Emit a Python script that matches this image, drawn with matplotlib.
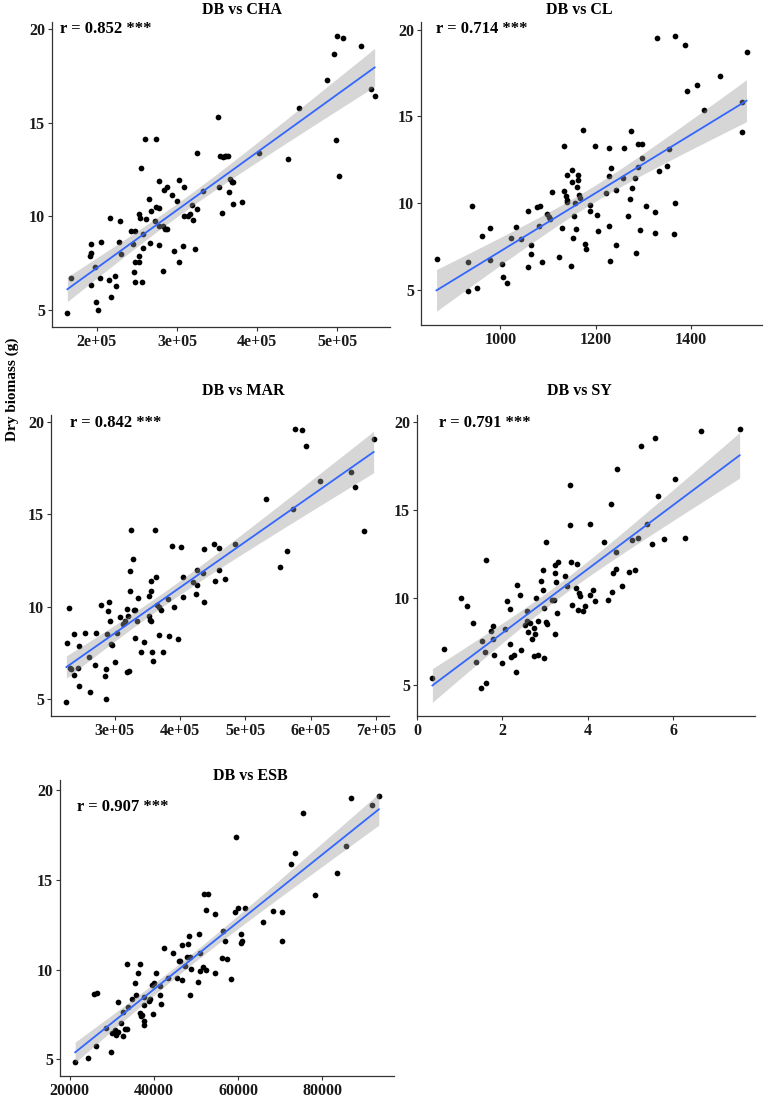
import numpy as np
import matplotlib.pyplot as plt

# data (dry biomass vs each index)
cha_x = [1.63e5, 1.68e5, 1.92e5, 1.91e5, 1.93e5, 1.92e5, 1.98e5, 1.99e5, 2.01e5, 2.04e5, 2.05e5,
         2.15e5, 2.16e5, 2.17e5, 2.23e5, 2.24e5, 2.28e5, 2.29e5, 2.30e5, 2.43e5, 2.45e5, 2.46e5,
         2.47e5, 2.47e5, 2.48e5, 2.52e5, 2.52e5, 2.53e5, 2.54e5, 2.55e5, 2.56e5, 2.57e5, 2.58e5,
         2.60e5, 2.61e5, 2.65e5, 2.66e5, 2.67e5, 2.73e5, 2.74e5, 2.74e5, 2.77e5, 2.77e5, 2.78e5,
         2.78e5, 2.82e5, 2.83e5, 2.84e5, 2.85e5, 2.87e5, 2.88e5, 2.94e5, 2.96e5, 3.00e5, 3.03e5,
         3.03e5, 3.08e5, 3.09e5, 3.09e5, 3.14e5, 3.16e5, 3.19e5, 3.20e5, 3.22e5, 3.25e5, 3.25e5,
         3.32e5, 3.51e5, 3.52e5, 3.54e5, 3.56e5, 3.58e5, 3.60e5, 3.61e5, 3.64e5, 3.65e5, 3.66e5,
         3.69e5, 3.70e5, 3.70e5, 3.81e5, 4.02e5, 4.39e5, 4.53e5, 4.88e5, 4.96e5, 4.99e5, 5.00e5,
         5.03e5, 5.08e5, 5.30e5, 5.43e5, 5.47e5]
cha_y = [4.82, 6.69, 8.5, 7.9, 8.05, 6.3, 7.3, 5.4, 5.0, 6.7, 8.6,
         6.6, 9.9, 5.7, 6.8, 6.25, 8.6, 9.75, 8.0, 9.2, 8.5, 7.0,
         7.55, 6.5, 9.2, 7.55, 10.1, 7.9, 9.9, 12.6, 6.5, 9.05, 8.3,
         14.15, 9.85, 10.9, 8.55, 10.3, 9.75, 10.5, 14.15, 9.5, 8.45, 10.45,
         11.9, 9.5, 7.05, 11.4, 9.3, 9.3, 11.55, 11.15, 8.15, 10.8, 11.95,
         7.55, 8.4, 11.55, 10.0, 10.0, 10.1, 10.6, 9.8, 8.25, 13.4, 10.4,
         11.35, 15.3, 11.55, 13.25, 10.2, 13.15, 13.25, 13.25, 13.2, 11.3, 12.0,
         11.85, 10.65, 11.85, 10.75, 13.4, 13.05, 15.8, 17.3, 18.7, 14.1, 19.65,
         12.15, 19.55, 19.1, 16.8, 16.45]

cl_x = [866, 933, 933, 940, 952, 961, 978, 978, 1003, 1005, 1013, 1023, 1033, 1043, 1059, 1059,
        1065, 1065, 1076, 1081, 1084, 1088, 1099, 1102, 1105, 1109, 1124, 1130, 1134, 1134, 1138,
        1139, 1140, 1141, 1149, 1151, 1151, 1153, 1155, 1156, 1159, 1160, 1163, 1164, 1166, 1167,
        1174, 1177, 1180, 1188, 1189, 1198, 1203, 1205, 1221, 1228, 1229, 1229, 1230, 1233, 1243,
        1243, 1258, 1259, 1269, 1273, 1275, 1276, 1282, 1285, 1289, 1290, 1293, 1297, 1298, 1305,
        1324, 1324, 1330, 1333, 1350, 1354, 1365, 1366, 1366, 1387, 1393, 1412, 1428, 1462, 1507,
        1507, 1517]
cl_y = [6.77, 4.9, 6.6, 9.85, 5.1, 8.1, 8.55, 6.7, 6.5, 5.75, 5.4, 7.95, 8.6, 7.9, 9.55, 6.3,
        7.55, 7.05, 9.75, 8.65, 9.8, 6.6, 9.35, 9.2, 9.1, 10.65, 6.9, 8.55, 13.3, 10.7, 10.4,
        10.05, 10.2, 11.6, 6.35, 11.2, 11.9, 8.0, 9.25, 10.0, 8.5, 10.9, 11.3, 11.6, 10.45, 10.3,
        14.2, 7.65, 7.35, 9.55, 9.9, 13.3, 9.3, 8.4, 10.6, 13.15, 11.55, 8.65, 6.65, 12.0, 10.75,
        7.6, 11.45, 13.15, 9.25, 10.25, 14.15, 10.85, 11.45, 7.1, 12.05, 13.4, 8.45, 12.6, 13.4, 9.85,
        9.5, 8.25, 19.5, 11.85, 12.15, 13.1, 8.2, 10.0, 19.65, 19.1, 16.45, 16.8, 15.35, 17.3, 14.1,
        15.85, 18.7]

mar_x = [2.26e5, 2.27e5, 2.30e5, 2.31e5, 2.33e5, 2.37e5, 2.38e5, 2.44e5, 2.45e5, 2.45e5, 2.54e5,
         2.60e5, 2.62e5, 2.70e5, 2.71e5, 2.79e5, 2.85e5, 2.86e5, 2.87e5, 2.88e5, 2.90e5, 2.91e5,
         2.93e5, 2.94e5, 2.96e5, 3.00e5, 3.04e5, 3.08e5, 3.13e5, 3.15e5, 3.18e5, 3.19e5, 3.21e5,
         3.22e5, 3.23e5, 3.24e5, 3.25e5, 3.28e5, 3.30e5, 3.31e5, 3.31e5, 3.34e5, 3.36e5, 3.40e5,
         3.44e5, 3.52e5, 3.53e5, 3.54e5, 3.55e5, 3.55e5, 3.55e5, 3.57e5, 3.58e5, 3.61e5, 3.63e5,
         3.64e5, 3.68e5, 3.68e5, 3.71e5, 3.74e5, 3.81e5, 3.83e5, 3.88e5, 3.91e5, 3.96e5, 4.02e5,
         4.04e5, 4.04e5, 4.19e5, 4.24e5, 4.26e5, 4.26e5, 4.35e5, 4.37e5, 4.37e5, 4.52e5, 4.53e5,
         4.59e5, 4.60e5, 4.69e5, 4.84e5, 5.31e5, 5.53e5, 5.64e5, 5.72e5, 5.76e5, 5.87e5, 5.92e5,
         6.14e5, 6.62e5, 6.67e5, 6.81e5, 6.96e5]
mar_y = [4.82, 8.04, 9.92, 6.67, 6.6, 6.3, 8.5, 6.7, 7.85, 5.68, 8.6,
         7.3, 5.38, 6.85, 8.6, 10.1, 6.26, 5.02, 6.65, 8.5, 9.76, 10.26,
         9.2, 8.0, 7.9, 7.0, 8.55, 9.44, 9.04, 9.22, 9.87, 6.47, 9.5,
         6.53, 11.93, 10.87, 14.14, 12.6, 9.8, 8.3, 9.8, 9.22, 10.46, 7.55,
         8.1, 9.5, 10.6, 9.3, 10.84, 11.4, 9.25, 7.55, 7.05, 14.14, 11.6,
         10.1, 10.0, 8.45, 9.83, 7.55, 10.43, 8.4, 13.28, 9.98, 8.25, 13.23,
         11.6, 10.52, 11.34, 10.7, 11.98, 11.2, 11.84, 13.14, 10.23, 13.39, 11.38,
         13.2, 11.98, 11.52, 13.39, 15.81, 12.13, 13.03, 15.31, 19.64, 19.55, 18.69,
         16.78, 17.32, 16.48, 14.1, 19.08]

sy_x = [0.36, 0.63, 1.02, 1.17, 1.30, 1.37, 1.50, 1.52, 1.59, 1.61, 1.62, 1.73, 1.77, 1.77, 1.80,
        2.00, 2.05, 2.11, 2.18, 2.18, 2.20, 2.27, 2.31, 2.34, 2.41, 2.44, 2.52, 2.57, 2.58, 2.60,
        2.65, 2.68, 2.73, 2.73, 2.77, 2.79, 2.82, 2.83, 2.90, 2.95, 2.96, 2.97, 2.97, 3.02, 3.02,
        3.04, 3.15, 3.20, 3.23, 3.23, 3.23, 3.25, 3.27, 3.29, 3.47, 3.52, 3.58, 3.58, 3.60, 3.63,
        3.73, 3.75, 3.76, 3.80, 3.82, 3.89, 3.94, 4.04, 4.06, 4.13, 4.17, 4.38, 4.48, 4.54, 4.57,
        4.59, 4.65, 4.66, 4.69, 4.79, 4.95, 5.03, 5.09, 5.16, 5.25, 5.38, 5.49, 5.58, 5.63, 5.77,
        6.03, 6.27, 6.65, 7.55]
sy_y = [5.43, 7.09, 10.0, 9.51, 8.57, 6.34, 4.87, 7.55, 6.92, 12.17, 5.13, 8.09, 8.36, 7.64, 6.72,
        6.28, 8.21, 9.83, 9.36, 7.36, 6.62, 6.72, 5.75, 10.74, 10.15, 7.02, 8.43, 9.26, 8.66, 8.04,
        8.57, 7.62, 8.28, 6.66, 7.92, 10.0, 8.66, 6.74, 10.94, 10.45, 11.58, 9.42, 6.57, 13.17, 8.6,
        8.49, 9.85, 9.85, 7.92, 11.38, 11.85, 10.89, 9.15, 12.0, 11.21, 10.68, 16.43, 14.13, 12.0, 9.57,
        10.57, 11.94, 9.32, 10.26, 10.08, 9.25, 9.55, 14.17, 10.15, 10.45, 9.83, 13.15, 9.89, 15.32, 10.32,
        11.42, 11.62, 12.58, 17.3, 10.66, 11.47, 13.26, 11.57, 13.38, 18.66, 14.17, 13.06, 19.09, 15.81, 13.32,
        16.77, 13.38, 19.51, 19.62]

esb_x = [21344, 24348, 25692, 26403, 26324, 28696, 29723, 30040, 30672, 31067, 31383, 31383,
         32095, 32569, 32727, 33202, 33676, 33676, 33913, 34783, 35573, 35810, 36285, 36680,
         36680, 36917, 37233, 37628, 37628, 37628, 37708, 38735, 39130, 39526, 39842, 40000,
         40395, 41344, 41344, 41660, 42451, 43241, 44585, 45534, 45850, 46245, 46561, 46640,
         47272, 47747, 47984, 48221, 48458, 48538, 48854, 50356, 50593, 50909, 50988, 51700,
         51858, 52332, 52332, 52885, 54466, 54466, 56126, 56443, 56917, 57391, 58261, 59368,
         59526, 60000, 60791, 60791, 60949, 61581, 65929, 68300, 70356, 70514, 72490, 73597,
         75336, 78261, 83478, 85692, 86719, 91858, 93360]
esb_y = [4.87, 5.07, 8.63, 8.67, 5.73, 6.73, 5.41, 6.48, 6.61, 6.35, 8.21, 6.55,
         7.01, 7.61, 6.3, 6.68, 6.68, 10.28, 7.94, 8.38, 9.27, 8.56, 9.82, 10.28,
         7.58, 7.39, 7.45, 8.49, 8.0, 7.12, 6.9, 8.25, 8.38, 9.16, 7.54, 9.25,
         9.82, 9.1, 8.56, 8.1, 11.22, 9.54, 10.91, 9.54, 10.46, 10.5, 9.42, 11.35,
         10.2, 10.71, 11.44, 11.87, 10.71, 8.56, 10.02, 9.31, 12.0, 9.89, 10.9, 10.13,
         14.19, 9.98, 13.33, 14.19, 13.08, 9.82, 10.64, 12.14, 11.6, 10.59, 9.48, 13.19,
         17.35, 13.44, 11.96, 11.49, 11.6, 13.44, 12.62, 13.28, 13.22, 11.56, 15.85, 16.47,
         18.7, 14.14, 15.36, 16.84, 19.56, 19.16, 19.67]

titles = ["DB vs CHA", "DB vs CL", "DB vs MAR", "DB vs SY", "DB vs ESB"]
r_labels = ["r = 0.852 ***", "r = 0.714 ***", "r = 0.842 ***", "r = 0.791 ***", "r = 0.907 ***"]
x_ticks = [[2e5, 3e5, 4e5, 5e5], [1000, 1200, 1400], [3e5, 4e5, 5e5, 6e5, 7e5],
           [0, 2, 4, 6], [20000, 40000, 60000, 80000]]
x_ticklabels = [["2e+05", "3e+05", "4e+05", "5e+05"], ["1000", "1200", "1400"],
                ["3e+05", "4e+05", "5e+05", "6e+05", "7e+05"], ["0", "2", "4", "6"],
                ["20000", "40000", "60000", "80000"]]
y_ticks = [5, 10, 15, 20]

W, H = 772, 1100
FONT = "Liberation Serif"
T_VAL = 1.987  # t quantile 0.975, df ~ 90

# panel boxes in pixels: left, right, top, bottom
boxes = [(52, 390, 22, 327), (421, 762, 22, 325), (51, 389, 415, 716),
         (417, 755, 415, 716), (60, 394, 780, 1076)]
title_pos = [(242, 10), (579, 10), (243, 391), (579, 391), (250, 776)]
r_pos = [(60, 29), (436, 29), (70, 423), (439, 423), (77, 807)]


def lm_band(x, y, xs):
    x = np.asarray(x, float)
    y = np.asarray(y, float)
    n = len(x)
    b, a = np.polyfit(x, y, 1)
    resid = y - (a + b * x)
    s = np.sqrt(np.sum(resid ** 2) / (n - 2))
    sxx = np.sum((x - x.mean()) ** 2)
    fit = a + b * xs
    se = s * np.sqrt(1.0 / n + (xs - x.mean()) ** 2 / sxx)
    return fit, fit - T_VAL * se, fit + T_VAL * se


def draw_panel(fig, i, x, y):
    l, r, t, b = boxes[i]
    ax = fig.add_axes([l / W, 1 - b / H, (r - l) / W, (b - t) / H])
    x = np.asarray(x, float)
    y = np.asarray(y, float)
    xs = np.linspace(x.min(), x.max(), 80)
    fit, lo, hi = lm_band(x, y, xs)

    ax.scatter(x, y, s=17, color="black", zorder=2, linewidths=0)
    # ribbon on top of points, like geom_smooth
    ax.fill_between(xs, lo, hi, color="#999999", alpha=0.4, linewidth=0, zorder=3)
    ax.plot(xs, fit, color="#3366FF", linewidth=1.3, zorder=4)

    # ggplot style 5% expansion
    dx = (x.max() - x.min()) * 0.05
    ymin = min(y.min(), lo.min())
    ymax = max(y.max(), hi.max())
    dy = (ymax - ymin) * 0.05
    ax.set_xlim(x.min() - dx, x.max() + dx)
    ax.set_ylim(ymin - dy, ymax + dy)

    ax.set_xticks(x_ticks[i])
    ax.set_xticklabels(x_ticklabels[i])
    ax.set_yticks(y_ticks)
    for lab in ax.get_xticklabels() + ax.get_yticklabels():
        lab.set_fontfamily(FONT)
        lab.set_fontweight("bold")
        lab.set_fontsize(11.5)
        lab.set_color("#1a1a1a")
    ax.tick_params(length=3, width=0.8, color="#333333", pad=2)

    for side in ["top", "right"]:
        ax.spines[side].set_visible(False)
    for side in ["left", "bottom"]:
        ax.spines[side].set_color("#333333")
        ax.spines[side].set_linewidth(0.9)

    tx, ty = title_pos[i]
    fig.text(tx / W, 1 - ty / H, titles[i], ha="center", va="center",
             fontfamily=FONT, fontweight="bold", fontsize=11.5)
    rx, ry = r_pos[i]
    fig.text(rx / W, 1 - ry / H, r_labels[i], ha="left", va="center",
             fontfamily=FONT, fontweight="bold", fontsize=12)
    return ax


fig = plt.figure(figsize=(W / 100, H / 100), dpi=100)
fig.patch.set_facecolor("white")

all_x = [cha_x, cl_x, mar_x, sy_x, esb_x]
all_y = [cha_y, cl_y, mar_y, sy_y, esb_y]
for i in range(5):
    draw_panel(fig, i, all_x[i], all_y[i])

fig.text(12 / W, 1 - 389 / H, "Dry biomass (g)", rotation=90, ha="center", va="center",
         fontfamily=FONT, fontweight="bold", fontsize=11)

fig.savefig("out.png", dpi=100)
